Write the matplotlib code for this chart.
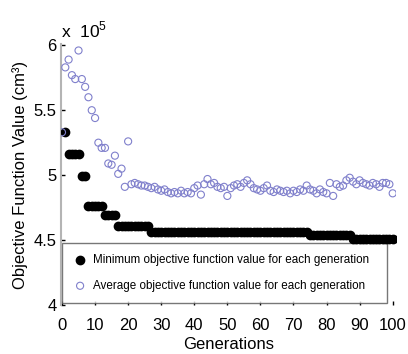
import numpy as np
import matplotlib
matplotlib.use("Agg")
import matplotlib.pyplot as plt
from matplotlib.ticker import FormatStrFormatter

plt.rcParams["font.family"] = ["Liberation Sans", "DejaVu Sans"]
plt.rcParams["mathtext.fontset"] = "custom"
plt.rcParams["mathtext.rm"] = "Liberation Sans"

# objective values, in units of 1e5 cm^3
min_gens = np.arange(1, 101)
min_values = ([5.33] + [5.16] * 4 + [4.99] * 2 + [4.76] * 5 + [4.69] * 4
              + [4.61] * 10 + [4.565] * 48 + [4.54] * 13 + [4.505] * 13)

avg_gens = np.arange(0, 101)
avg_values = [
    5.33, 5.83, 5.89, 5.77, 5.74, 5.96, 5.74, 5.68, 5.60, 5.50,
    5.44, 5.25, 5.21, 5.21, 5.09, 5.08, 5.15, 5.01, 5.05, 4.91,
    5.26, 4.93, 4.94, 4.93, 4.92, 4.92, 4.91, 4.90, 4.91, 4.89,
    4.88, 4.89, 4.87, 4.86, 4.87, 4.86, 4.88, 4.86, 4.87, 4.86,
    4.90, 4.92, 4.85, 4.93, 4.97, 4.93, 4.94, 4.91, 4.90, 4.91,
    4.84, 4.90, 4.92, 4.93, 4.91, 4.94, 4.96, 4.93, 4.90, 4.89,
    4.88, 4.90, 4.92, 4.88, 4.87, 4.89, 4.88, 4.87, 4.88, 4.86,
    4.88, 4.87, 4.89, 4.88, 4.92, 4.89, 4.88, 4.86, 4.89, 4.87,
    4.86, 4.94, 4.84, 4.93, 4.91, 4.92, 4.96, 4.98, 4.95, 4.93,
    4.96, 4.94, 4.93, 4.92, 4.94, 4.93, 4.91, 4.94, 4.94, 4.93,
    4.86,
]

x_ticks = [0, 10, 20, 30, 40, 50, 60, 70, 80, 90, 100]
y_ticks = [4, 4.5, 5, 5.5, 6]

fig = plt.figure(figsize=(4.08, 3.54), dpi=100)
ax = fig.add_axes([61 / 408, 49 / 354, 335 / 408, 261 / 354])

ax.scatter(min_gens, min_values, s=36, color="black", zorder=3,
           label="Minimum objective function value for each generation")
ax.scatter(avg_gens, avg_values, s=26, facecolors="none", edgecolors="#8080cc",
           linewidths=0.8, zorder=4,
           label="Average objective function value for each generation")

ax.set_xlim(-0.3, 101)
ax.set_ylim(4, 6.01)
ax.set_xticks(x_ticks)
ax.set_yticks(y_ticks)
ax.yaxis.set_major_formatter(FormatStrFormatter("%g"))
ax.tick_params(direction="in", length=3, width=1, labelsize=12, color="black", pad=3)
ax.tick_params(axis="x", pad=9)

for side in ["top", "right", "bottom"]:
    ax.spines[side].set_visible(False)
ax.spines["left"].set_color("#b4b4b4")
ax.spines["left"].set_linewidth(1.5)

ax.set_xlabel("Generations", fontsize=12, labelpad=3)
ax.set_ylabel("Objective Function Value (cm³)", fontsize=12, labelpad=4)
ax.text(0.0, 1.015, r"x  10$^{5}$", transform=ax.transAxes, fontsize=12.5,
        ha="left", va="bottom")

leg = ax.legend(loc="lower left", bbox_to_anchor=(0.003, 0.008, 0.97, 0.242),
                mode="expand", borderaxespad=0, fancybox=False, scatterpoints=1,
                handlelength=1.2, handletextpad=0.5, borderpad=0.95, labelspacing=1.15,
                prop={"size": 8.4})
leg.get_frame().set_edgecolor("#555555")
leg.get_frame().set_linewidth(1.0)
leg.set_zorder(2)

fig.savefig("out.png", dpi=100)
